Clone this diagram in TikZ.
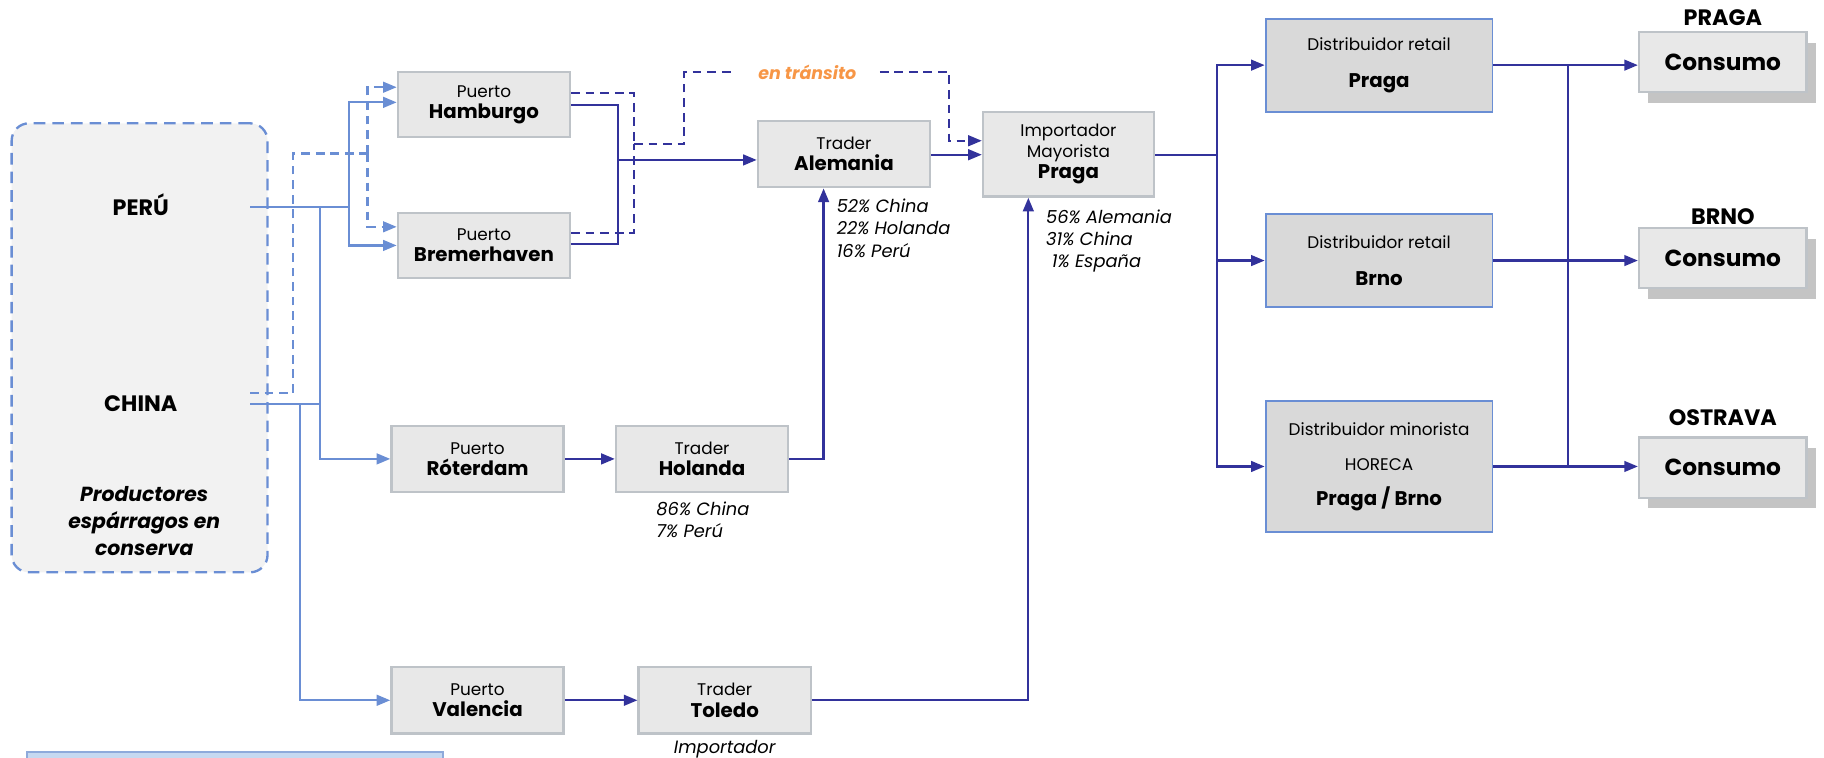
\documentclass[tikz,border=0pt]{standalone}
\usepackage{fontspec}
\setmainfont{Poppins}
\usetikzlibrary{arrows.meta,shadows}
\definecolor{lblue}{RGB}{106,142,212}
\definecolor{dblue}{RGB}{50,50,155}
\definecolor{boxfill}{RGB}{232,232,232}
\definecolor{boxline}{RGB}{190,195,200}
\definecolor{distfill}{RGB}{217,217,217}
\definecolor{prodfill}{RGB}{242,242,242}
\definecolor{transitc}{RGB}{247,150,70}
\definecolor{legfill}{RGB}{198,217,241}
\definecolor{legline}{RGB}{142,170,219}
\newcommand\bigb[1]{{\fontsize{10.2}{12}\selectfont\bfseries #1}}
\begin{document}
\begin{tikzpicture}[x=0.6pt,y=-0.6pt,
  gbox/.style={draw=boxline, line width=1.2pt, fill=boxfill, align=center, inner sep=0pt,
    minimum width=88.8pt, minimum height=34.2pt, font=\fontsize{8.7}{11}\selectfont},
  dbox/.style={draw=lblue, line width=1pt, fill=distfill, align=center, inner sep=0pt,
    minimum width=117pt, minimum height=48pt, font=\fontsize{8.7}{11}\selectfont},
  cbox/.style={draw=boxline, line width=1.2pt, fill=boxfill, inner sep=0pt,
    minimum width=86.4pt, minimum height=31pt, font=\fontsize{12}{14}\selectfont\bfseries,
    drop shadow={shadow xshift=4.8pt, shadow yshift=-5.4pt, fill=black!23, opacity=1}},
  city/.style={font=\fontsize{11.5}{13}\selectfont\bfseries, inner sep=0pt},
  pct/.style={font=\fontsize{9.2}{11.4}\selectfont\itshape, align=left, inner sep=0pt, anchor=north west},
  lb/.style={draw=lblue, line width=1.15pt},
  lbA/.style={lb, -{Triangle[length=7pt,width=5.5pt]}},
  lbd/.style={lb, dash pattern=on 4.5pt off 3pt},
  lbdA/.style={lbd, -{Triangle[length=7pt,width=5.5pt]}},
  db/.style={draw=dblue, line width=1.15pt},
  dbA/.style={db, -{Triangle[length=7pt,width=5.5pt]}},
  dbd/.style={db, dash pattern=on 4.5pt off 3pt},
  dbdA/.style={dbd, -{Triangle[length=7pt,width=5.5pt]}}
]
\useasboundingbox (0,0) rectangle (1568,651);

% producers box
\node[draw=lblue, line width=1.2pt, dash pattern=on 6pt off 3.6pt, rounded corners=9pt,
  fill=prodfill, minimum width=132pt, minimum height=231.6pt] (prod) at (120,299) {};
\node[city] (peru) at (121,176) {PERÚ};
\node[city] (china) at (121,347) {CHINA};
\node[font=\fontsize{10.5}{14}\selectfont\bfseries\itshape, align=center] (prodtxt) at (124,448) {Productores\\espárragos en\\conserva};

% grey boxes
\node[gbox, minimum height=33.6pt] (hamb) at (416,90) {Puerto\\\bigb{Hamburgo}};
\node[gbox, minimum height=33.6pt] (brem) at (416,211) {Puerto\\\bigb{Bremerhaven}};
\node[gbox] (ale) at (725.5,132.5) {Trader\\\bigb{Alemania}};
\node[gbox, minimum width=88.2pt, minimum height=43.8pt] (imp) at (918.5,132.5) {Importador\\Mayorista\\\bigb{Praga}};
\node[gbox] (rot) at (410.5,394.5) {Puerto\\\bigb{Róterdam}};
\node[gbox] (hol) at (603.5,394.5) {Trader\\\bigb{Holanda}};
\node[gbox] (val) at (410.5,602) {Puerto\\\bigb{Valencia}};
\node[gbox] (tol) at (623,602) {Trader\\\bigb{Toledo}};

% distributors
\node[dbox] (dp) at (1185.5,56) {Distribuidor retail\\[8pt]\bigb{Praga}};
\node[dbox] (dbr) at (1185.5,224) {Distribuidor retail\\[8pt]\bigb{Brno}};
\node[dbox, minimum height=67.2pt] (hor) at (1185.5,401) {Distribuidor minorista\\[7pt]HORECA\\[7pt]\bigb{Praga / Brno}};

% consumption
\node[cbox] (cp) at (1481,53.5) {Consumo};
\node[cbox] (cb) at (1481,222) {Consumo};
\node[cbox] (co) at (1481,402) {Consumo};
\node[city] (lp) at (1481,15) {PRAGA};
\node[city] (lbrno) at (1481,186) {BRNO};
\node[city] (lo) at (1481,359) {OSTRAVA};

% labels
\node[pct] (pa) at (719,171) {52\% China\\22\% Holanda\\16\% Perú};
\node[pct] (pi) at (899,180) {56\% Alemania\\31\% China\\\hspace*{3pt}1\% España};
\node[pct] (ph) at (564,431) {86\% China\\7\% Perú};
\node[font=\fontsize{9.2}{11}\selectfont\itshape] (imptxt) at (623,644) {Importador};
\node[font=\fontsize{9}{11}\selectfont\bfseries\itshape, text=transitc, inner xsep=12pt, inner ysep=0pt] (tr) at (694,62) {en tránsito};

% legend strip
\node[draw=legline, fill=legfill, line width=1pt, minimum width=214.8pt, minimum height=12pt, anchor=north west, inner sep=0pt] (leg) at (22,646) {};

% junctions
\coordinate (peruout) at (215,178);
\coordinate (chinaout) at (215,347);
\coordinate (chinadash) at (215,338);
\coordinate (jp) at (300,178);
\coordinate (jr) at (275,178);
\coordinate (jv) at (258,347);
\coordinate (jd) at (316,132);
\coordinate (jh) at (531,137.5);
\coordinate (jt) at (545,124);
\coordinate (ji) at (1046,133);
\coordinate (jc) at (1348,56);

% light blue solid
\draw[lb] (peruout) -- (jp);
\draw[lbA] (jp) |- (hamb.west |- 0,88);
\draw[lbA] (jp) |- (brem.west |- 0,211);
\draw[lbA] (jr) |- (rot.west);
\draw[lb] (chinaout) -- (jr |- chinaout);
\draw[lbA] (jv) |- (val.west);

% light blue dashed
\draw[lbd] (chinadash) -- (252,338) |- (jd);
\draw[lbdA] (jd) |- (hamb.west |- 0,75);
\draw[lbdA] (jd) |- (brem.west |- 0,195);

% dark blue solid
\draw[db] (hamb.east |- 0,90) -| (jh);
\draw[db] (brem.east |- 0,210) -| (jh);
\draw[dbA] (jh) -- (ale.west |- jh);
\draw[dbA] (ale.east |- 0,133) -- (imp.west |- 0,133);
\draw[dbA] (rot.east) -- (hol.west);
\draw[dbA] (hol.east) -| (708,0 |- ale.south);
\draw[dbA] (val.east) -- (tol.west);
\draw[dbA] (tol.east) -| (884,0 |- imp.south);

% dark blue dashed
\draw[dbd] (hamb.east |- 0,80) -| (jt);
\draw[dbd] (brem.east |- 0,200) -| (jt);
\draw[dbd] (jt) -- (588,124) |- (tr.west);
\draw[dbdA] (tr.east) -| (816,121) -- (imp.west |- 0,121);

% importer to distributors
\draw[db] (imp.east |- ji) -- (ji);
\draw[dbA] (ji) |- (dp.west);
\draw[dbA] (ji) |- (dbr.west);
\draw[dbA] (ji) |- (hor.west);

% distributors to consumption
\draw[dbA] (dp.east) -- (cp.west |- dp.east);
\draw[dbA] (dbr.east) -- (cb.west |- dbr.east);
\draw[dbA] (hor.east) -- (co.west |- hor.east);
\draw[db] (jc) -- (jc |- hor.east);
\end{tikzpicture}
\end{document}
